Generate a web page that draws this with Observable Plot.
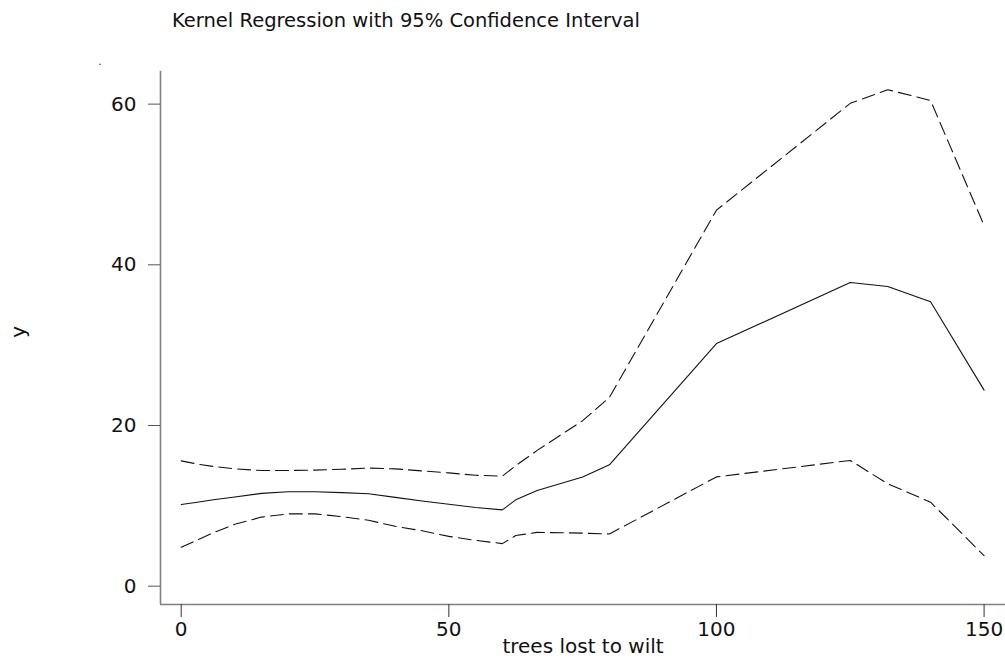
<!DOCTYPE html>
<html><head><meta charset="utf-8">
<script src="https://cdn.jsdelivr.net/npm/d3@7"></script>
<script src="https://cdn.jsdelivr.net/npm/@observablehq/plot@0.6"></script>
<style>
html,body{margin:0;padding:0;background:#fff;}
#title{height:40px;box-sizing:border-box;padding:10.5px 0 0 172px;font:19.5px/1 "DejaVu Sans";color:#111;white-space:nowrap;}
#chart svg{display:block;}
</style></head><body>
<div id="title">Kernel Regression with 95% Confidence Interval</div>
<div id="chart"></div>
<script>
const xs    = [0, 3, 6, 10, 15, 20, 25, 30, 35, 40, 45, 50, 55, 60, 62.5, 66.5, 75, 80, 100, 125, 132, 140, 150];
const fit   = [10.17, 10.45, 10.75, 11.1, 11.55, 11.75, 11.75, 11.65, 11.5, 11.05, 10.6, 10.2, 9.8, 9.5, 10.75, 11.9, 13.6, 15.1, 30.2, 37.8, 37.3, 35.4, 24.4];
const lower = [4.85, 5.75, 6.65, 7.7, 8.6, 9.0, 9.0, 8.65, 8.2, 7.45, 6.9, 6.2, 5.7, 5.3, 6.3, 6.7, 6.6, 6.5, 13.6, 15.65, 12.75, 10.45, 3.8];
const upper = [15.6, 15.2, 14.9, 14.6, 14.4, 14.4, 14.45, 14.55, 14.7, 14.6, 14.35, 14.1, 13.8, 13.7, 15.0, 16.9, 20.6, 23.5, 46.8, 60.1, 61.8, 60.45, 44.9];
const xTicks = [0, 50, 100, 150];
const yTicks = [0, 20, 40, 60];
const xLabel = "trees lost to wilt";
const yLabel = "y";

const xDomain = [-3.87, 154];
const yDomain = [-2.28, 64.1];

const data = xs.map((x, i) => ({x, fit: fit[i], lower: lower[i], upper: upper[i]}));

const chart = Plot.plot({
  width: 1005,
  height: 621,
  marginLeft: 160,
  marginRight: 0,
  marginTop: 30.7,
  marginBottom: 57,
  style: {fontFamily: "DejaVu Sans", fontSize: "20px", background: "white", color: "#111"},
  x: {domain: xDomain, label: null},
  y: {domain: yDomain, label: null},
  marks: [
    Plot.ruleY([yDomain[0]], {stroke: "#808080", strokeWidth: 1.6}),
    Plot.ruleX([xDomain[0]], {stroke: "#808080", strokeWidth: 1.6}),
    Plot.axisX({ticks: xTicks, tickSize: 13, tickPadding: 4, fontSize: 20, stroke: "#333", label: null}),
    Plot.axisY({ticks: yTicks, tickSize: 12, tickPadding: 12, fontSize: 20, stroke: "#555", label: null}),
    Plot.line(data, {x: "x", y: "upper", stroke: "#111", strokeWidth: 1.1, strokeDasharray: "13,6"}),
    Plot.line(data, {x: "x", y: "lower", stroke: "#111", strokeWidth: 1.1, strokeDasharray: "13,6"}),
    Plot.line(data, {x: "x", y: "fit", stroke: "#111", strokeWidth: 1.1}),
    Plot.text([xLabel], {text: d => d, frameAnchor: "bottom", dy: 48, fontSize: 20, fill: "#111"}),
    Plot.text([yLabel], {text: d => d, frameAnchor: "left", dx: -142, rotate: -90, fontSize: 20, fill: "#111"}),
    Plot.text(["."], {text: d => d, frameAnchor: "top-left", dx: -62, dy: -13, fontSize: 10, fill: "#111"})
  ]
});
document.getElementById("chart").appendChild(chart);
</script>
</body></html>
